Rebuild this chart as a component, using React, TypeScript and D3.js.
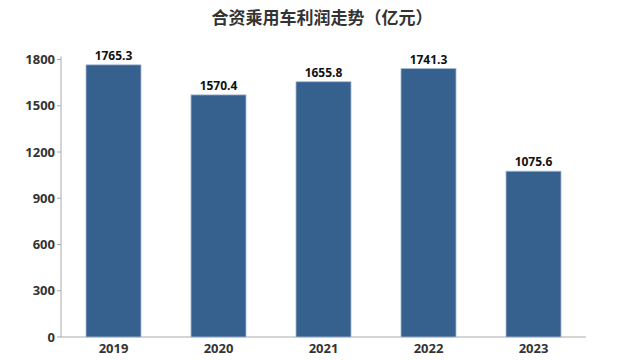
import React from "react";
import * as d3 from "d3";

const years = ["2019", "2020", "2021", "2022", "2023"];
const profits = [1765.3, 1570.4, 1655.8, 1741.3, 1075.6];
const yTicks = [0, 300, 600, 900, 1200, 1500, 1800];
const title = "合资乘用车利润走势（亿元）";

export default function App() {
  const W = 640, H = 360;
  const left = 61, right = 586, top = 59.5, bottom = 337;
  const x = d3.scaleBand<string>().domain(years).range([left, right]).paddingInner(0.476).paddingOuter(0.238);
  const y = d3.scaleLinear().domain([0, 1800]).range([bottom, top]);
  const font = "'Open Sans', 'Noto Sans', 'Noto Sans CJK SC', sans-serif";
  return (
    <svg width={W} height={H} style={{ position: "absolute", left: 0, top: 0, background: "#fff" }} fontFamily={font}>
      <text x={322} y={24} textAnchor="middle" fontSize={17} fontWeight="bold" fill="#333" fontFamily="'Noto Sans CJK SC', sans-serif">{title}</text>
      <line x1={left} x2={left} y1={top - 3} y2={bottom} stroke="#aaa" strokeWidth={1} />
      <line x1={left} x2={right} y1={bottom} y2={bottom} stroke="#aaa" strokeWidth={1} />
      {yTicks.map((t) => (
        <g key={t}>
          <line x1={left - 4} x2={left} y1={y(t)} y2={y(t)} stroke="#aaa" />
          <text x={left - 6} y={y(t)} dy="0.35em" textAnchor="end" fontSize={13} fontWeight="bold" fill="#333">{t}</text>
        </g>
      ))}
      {years.map((yr, i) => (
        <g key={yr}>
          <rect x={x(yr)!} y={y(profits[i])} width={x.bandwidth()} height={bottom - y(profits[i])} fill="#36618f" stroke="#a9bcd4" strokeWidth={0.8} />
          <text x={x(yr)! + x.bandwidth() / 2} y={y(profits[i]) - 5} textAnchor="middle" fontSize={12} fontWeight="bold" fill="#111">{profits[i].toFixed(1)}</text>
          <text x={x(yr)! + x.bandwidth() / 2} y={353} textAnchor="middle" fontSize={13} fontWeight="bold" fill="#333">{yr}</text>
        </g>
      ))}
    </svg>
  );
}
